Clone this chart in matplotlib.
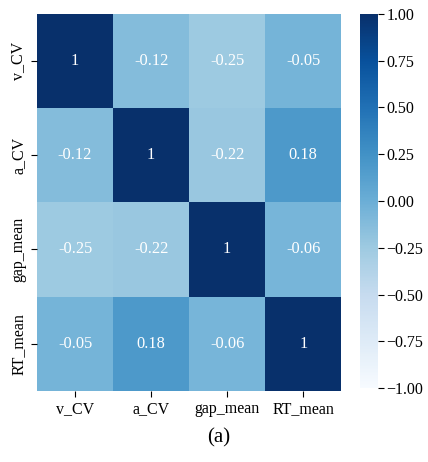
import matplotlib
matplotlib.use("Agg")
import matplotlib.pyplot as plt
import seaborn as sns
import numpy as np

# variables y matriz de correlacion
variables = ["v_CV", "a_CV", "gap_mean", "RT_mean"]
corr = np.array([
    [1.00, -0.12, -0.25, -0.05],
    [-0.12, 1.00, -0.22, 0.18],
    [-0.25, -0.22, 1.00, -0.06],
    [-0.05, 0.18, -0.06, 1.00],
])
etiquetas = [["1", "-0.12", "-0.25", "-0.05"],
             ["-0.12", "1", "-0.22", "0.18"],
             ["-0.25", "-0.22", "1", "-0.06"],
             ["-0.05", "0.18", "-0.06", "1"]]

plt.rcParams['font.family'] = ['Liberation Serif', 'DejaVu Serif']
plt.rcParams['font.size'] = 11.5

fig = plt.figure(figsize=(4.28, 4.62), dpi=100)
ax = fig.add_axes([0.0864, 0.154, 0.711, 0.816])
cax = fig.add_axes([0.841, 0.16, 0.042, 0.81])

sns.heatmap(corr, ax=ax, cbar_ax=cax, cmap="Blues", vmin=-1, vmax=1,
            annot=np.array(etiquetas), fmt="", annot_kws={"color": "white", "size": 11.8},
            xticklabels=variables, yticklabels=variables)
ax.tick_params(axis="both", labelsize=11.5, length=4)
ax.set_yticklabels(variables, rotation=90, va="center")
cax.tick_params(labelsize=11.5, length=4, pad=2)
cax.set_yticks([-1, -0.75, -0.5, -0.25, 0, 0.25, 0.5, 0.75, 1])
cax.set_yticklabels(["\u22121.00", "\u22120.75", "\u22120.50", "\u22120.25", "0.00",
                     "0.25", "0.50", "0.75", "1.00"])

fig.text(0.51, 0.052, "(a)", ha="center", va="center", fontsize=15)

fig.savefig("out.png", dpi=100)
